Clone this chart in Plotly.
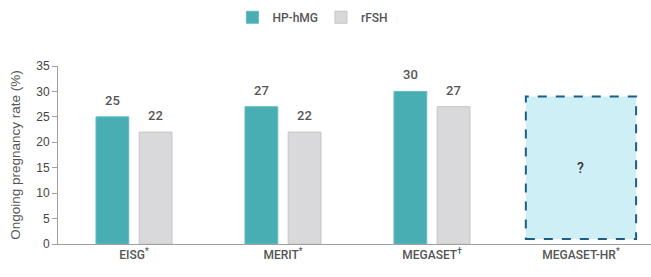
import plotly.graph_objects as go

categories = ["EISG<sup>*</sup>", "MERIT<sup>*</sup>", "MEGASET<sup>†</sup>", "MEGASET-HR<sup>*</sup>"]
hp_hmg = [25, 27, 30, None]
rfsh = [22, 22, 27, None]
placeholder_index = 3
placeholder_low = 1
placeholder_high = 29
placeholder_text = "?"
y_ticks = [0, 5, 10, 15, 20, 25, 30, 35]

TEAL = "#49aeb4"
GREY = "#d9d9db"
TXT = "#555555"
LBL = dict(family="Roboto", size=13, color=TXT, weight=500)
LEG_FONT = dict(family="Roboto", size=12, color=TXT, weight=500)

idx = list(range(len(categories)))
bw = 0.22

fig = go.Figure()
fig.add_trace(go.Bar(x=idx, y=hp_hmg, name="HP-hMG", width=bw, offset=-0.255, legend="legend",
                     marker=dict(color=TEAL, line=dict(color="#62bcc1", width=1))))
fig.add_trace(go.Bar(x=idx, y=rfsh, name="rFSH", width=bw, offset=0.035, legend="legend2",
                     marker=dict(color=GREY, line=dict(color="#c4c4c6", width=1))))

annotations = []
for i, v in enumerate(hp_hmg):
    if v is not None:
        annotations.append(dict(x=i - 0.145, y=v, text=str(v), showarrow=False, yanchor="bottom", yshift=7,
                                font=LBL))
for i, v in enumerate(rfsh):
    if v is not None:
        annotations.append(dict(x=i + 0.145, y=v, text=str(v), showarrow=False, yanchor="bottom", yshift=7,
                                font=LBL))
annotations.append(dict(x=placeholder_index, y=(placeholder_low + placeholder_high) / 2, text=placeholder_text,
                        showarrow=False, font=dict(family="Roboto", size=14, color="#333333", weight=500)))

fig.add_shape(type="rect", xref="x", yref="y",
              x0=placeholder_index - 0.37, x1=placeholder_index + 0.37,
              y0=placeholder_low, y1=placeholder_high,
              fillcolor="#cdeff5", line=dict(color="#1d5e85", width=2, dash="dash"), layer="below")

leg_common = dict(orientation="h", xref="container", yref="container", xanchor="left",
                  y=0.99, yanchor="top", font=LEG_FONT, itemwidth=30)

fig.update_layout(
    width=651, height=277,
    margin=dict(l=58, r=0, t=66, b=33),
    plot_bgcolor="white", paper_bgcolor="white",
    showlegend=True,
    legend=dict(x=0.357, **leg_common),
    legend2=dict(x=0.493, **leg_common),
    annotations=annotations,
    font=dict(family="Liberation Sans", color=TXT),
)
fig.update_xaxes(tickmode="array", tickvals=idx, ticktext=categories, range=[-0.51, 3.47],
                 showline=True, linecolor="#a0a0a0", linewidth=1, ticks="", showgrid=False, zeroline=False,
                 tickfont=dict(family="Roboto", size=12, color=TXT, weight=500))
fig.update_yaxes(range=[0, 35], tickvals=y_ticks, showline=True, linecolor="#a0a0a0", linewidth=1,
                 ticks="outside", ticklen=5, tickcolor="#a0a0a0", showgrid=False, zeroline=False,
                 tickfont=dict(family="Liberation Sans", size=12, color="#444444"),
                 title=dict(text="Ongoing pregnancy rate (%)", standoff=12,
                            font=dict(family="Liberation Sans", size=13.5, color=TXT)))

fig.write_html("out.html")
